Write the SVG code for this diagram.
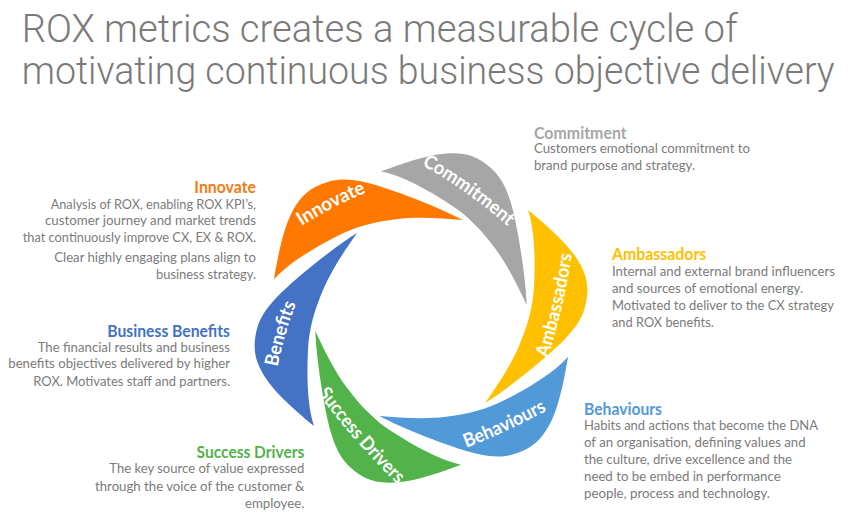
<svg xmlns="http://www.w3.org/2000/svg" xmlns:xlink="http://www.w3.org/1999/xlink" width="852" height="523" viewBox="0 0 852 523">
<style>
.title{font-family:Roboto,"Liberation Sans",Arial,sans-serif;font-weight:300;font-size:39.5px;fill:#7a7a7a}
.lbl{font-family:Lato,"Open Sans","Liberation Sans",sans-serif;font-weight:700;font-size:19px;fill:#ffffff}
.hd{font-family:Lato,"Open Sans","Liberation Sans",sans-serif;font-weight:700;font-size:17px}
.bd{font-family:Lato,"Open Sans","Liberation Sans",sans-serif;font-size:14px;fill:#7b7b7b}
</style>
<defs>
<path id="petal" d="M314,426 C298,413 276.8,394.3 267,380 C257.2,365.7 253.3,353.8 255,340 C256.7,326.2 260,314.8 277,297 C294,279.2 337,245 357,233 C345,250 331.2,270.5 323,290 C314.8,309.5 309,328 308,350 C306.8,375 307,405 314,426 Z"/>
<path id="pBenefits" d="M276.5,372.9 Q283.5,334.4 298.1,298.2"/>
<path id="pInnovate" d="M291,233 Q332,205 378,188"/>
<path id="pCommitment" d="M412.7,160 Q468.7,190.1 515.5,233.2"/>
<path id="pAmbassadors" d="M545,366.4 Q564.8,307.4 573.1,245.5"/>
<path id="pBehaviours" d="M459.4,450.4 Q508,432.3 553.1,406.9"/>
<path id="pSuccess" d="M313.3,387.6 Q353.4,442.3 402.5,489"/>
</defs>
<rect width="852" height="523" fill="#ffffff"/>
<g id="title">
<text class="title" x="21.7" y="42" textLength="716" lengthAdjust="spacingAndGlyphs">ROX metrics creates a measurable cycle of</text>
<text class="title" x="21.7" y="84" textLength="813" lengthAdjust="spacingAndGlyphs">motivating continuous business objective delivery</text>
</g>
<g id="connectors"/>
<g id="benefits">
<use xlink:href="#petal" href="#petal" fill="#4472C4"/>
<text class="lbl"><textPath xlink:href="#pBenefits" href="#pBenefits" startOffset="50%" text-anchor="middle" textLength="66" lengthAdjust="spacingAndGlyphs">Benefits</textPath></text>
<text class="hd" x="107.3" y="336.7" fill="#4472C4" textLength="122.7" lengthAdjust="spacingAndGlyphs">Business Benefits</text>
<text class="bd" x="37.7" y="351.7" textLength="192.3" lengthAdjust="spacingAndGlyphs">The financial results and business</text>
<text class="bd" x="8.3" y="368.3" textLength="221.7" lengthAdjust="spacingAndGlyphs">benefits objectives delivered by higher</text>
<text class="bd" x="33.3" y="385.7" textLength="196.7" lengthAdjust="spacingAndGlyphs">ROX. Motivates staff and partners.</text>
</g>
<g id="innovate">
<use xlink:href="#petal" href="#petal" fill="#FF7800" transform="rotate(60 421 318)"/>
<text class="lbl"><textPath xlink:href="#pInnovate" href="#pInnovate" startOffset="50%" text-anchor="middle" textLength="73" lengthAdjust="spacingAndGlyphs">Innovate</textPath></text>
<text class="hd" x="194.3" y="193.3" fill="#F47B10" textLength="61.7" lengthAdjust="spacingAndGlyphs">Innovate</text>
<text class="bd" x="50.7" y="209.3" textLength="205.3" lengthAdjust="spacingAndGlyphs">Analysis of ROX, enabling ROX KPI’s,</text>
<text class="bd" x="45" y="225" textLength="211" lengthAdjust="spacingAndGlyphs">customer journey and market trends</text>
<text class="bd" x="22.7" y="241.7" textLength="233.3" lengthAdjust="spacingAndGlyphs">that continuously improve CX, EX &amp; ROX.</text>
<text class="bd" x="54.3" y="262.3" textLength="201.7" lengthAdjust="spacingAndGlyphs">Clear highly engaging plans align to</text>
<text class="bd" x="156" y="279.3" textLength="100" lengthAdjust="spacingAndGlyphs">business strategy.</text>
</g>
<g id="commitment">
<use xlink:href="#petal" href="#petal" fill="#A6A6A6" transform="rotate(120 421 318)"/>
<text class="lbl"><textPath xlink:href="#pCommitment" href="#pCommitment" startOffset="50%" text-anchor="middle" textLength="106" lengthAdjust="spacingAndGlyphs">Commitment</textPath></text>
<text class="hd" x="534" y="139" fill="#A6A6A6" textLength="92.7" lengthAdjust="spacingAndGlyphs">Commitment</text>
<text class="bd" x="534" y="153.3" textLength="216" lengthAdjust="spacingAndGlyphs">Customers emotional commitment to</text>
<text class="bd" x="534" y="170" textLength="161" lengthAdjust="spacingAndGlyphs">brand purpose and strategy.</text>
</g>
<g id="ambassadors">
<use xlink:href="#petal" href="#petal" fill="#FFC000" transform="rotate(180 421 318)"/>
<text class="lbl"><textPath xlink:href="#pAmbassadors" href="#pAmbassadors" startOffset="50%" text-anchor="middle" textLength="107" lengthAdjust="spacingAndGlyphs">Ambassadors</textPath></text>
<text class="hd" x="612" y="260" fill="#FFC000" textLength="94.3" lengthAdjust="spacingAndGlyphs">Ambassadors</text>
<text class="bd" x="612" y="276" textLength="223" lengthAdjust="spacingAndGlyphs">Internal and external brand influencers</text>
<text class="bd" x="612" y="293" textLength="191" lengthAdjust="spacingAndGlyphs">and sources of emotional energy.</text>
<text class="bd" x="612" y="310" textLength="222" lengthAdjust="spacingAndGlyphs">Motivated to deliver to the CX strategy</text>
<text class="bd" x="612" y="327" textLength="101.7" lengthAdjust="spacingAndGlyphs">and ROX benefits.</text>
</g>
<g id="behaviours">
<use xlink:href="#petal" href="#petal" fill="#5299D8" transform="rotate(240 421 318)"/>
<text class="lbl"><textPath xlink:href="#pBehaviours" href="#pBehaviours" startOffset="50%" text-anchor="middle" textLength="89" lengthAdjust="spacingAndGlyphs">Behaviours</textPath></text>
<text class="hd" x="584" y="415" fill="#5299D8" textLength="78" lengthAdjust="spacingAndGlyphs">Behaviours</text>
<text class="bd" x="584" y="429.5" textLength="234" lengthAdjust="spacingAndGlyphs">Habits and actions that become the DNA</text>
<text class="bd" x="584" y="446.5" textLength="221.7" lengthAdjust="spacingAndGlyphs">of an organisation, defining values and</text>
<text class="bd" x="584" y="463.5" textLength="208" lengthAdjust="spacingAndGlyphs">the culture, drive excellence and the</text>
<text class="bd" x="584" y="480.7" textLength="196.7" lengthAdjust="spacingAndGlyphs">need to be embed in performance</text>
<text class="bd" x="584" y="498" textLength="186" lengthAdjust="spacingAndGlyphs">people, process and technology.</text>
</g>
<g id="success-drivers">
<use xlink:href="#petal" href="#petal" fill="#52B34B" transform="rotate(300 421 318)"/>
<text class="lbl"><textPath xlink:href="#pSuccess" href="#pSuccess" startOffset="50%" text-anchor="middle" textLength="121" lengthAdjust="spacingAndGlyphs">Success Drivers</textPath></text>
<text class="hd" x="196.6" y="458.3" fill="#52B34B" textLength="107.7" lengthAdjust="spacingAndGlyphs">Success Drivers</text>
<text class="bd" x="109.3" y="473.3" textLength="195" lengthAdjust="spacingAndGlyphs">The key source of value expressed</text>
<text class="bd" x="95" y="490.7" textLength="209.3" lengthAdjust="spacingAndGlyphs">through the voice of the customer &amp;</text>
<text class="bd" x="245" y="508.3" textLength="59.3" lengthAdjust="spacingAndGlyphs">employee.</text>
</g>
</svg>
